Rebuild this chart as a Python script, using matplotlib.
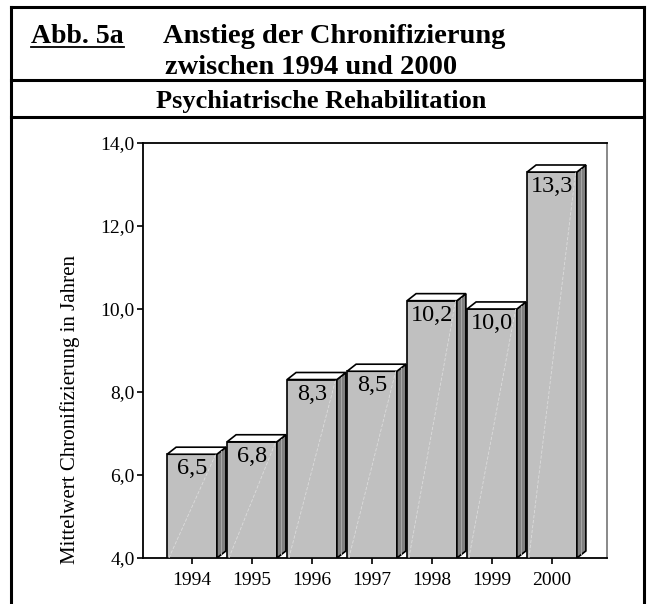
import numpy as np
import matplotlib
matplotlib.use("Agg")
import matplotlib.pyplot as plt
from matplotlib.patches import Polygon
from matplotlib.lines import Line2D

plt.rcParams['font.family'] = ['Liberation Serif', 'DejaVu Serif']

# data
years = ["1994", "1995", "1996", "1997", "1998", "1999", "2000"]
values = [6.5, 6.8, 8.3, 8.5, 10.2, 10.0, 13.3]
value_labels = ["6,5", "6,8", "8,3", "8,5", "10,2", "10,0", "13,3"]
yticks = [4.0, 6.0, 8.0, 10.0, 12.0, 14.0]
ytick_labels = ["4,0", "6,0", "8,0", "10,0", "12,0", "14,0"]

title_tag = "Abb. 5a"
title_line1 = "Anstieg der Chronifizierung"
title_line2 = "zwischen 1994 und 2000"
subtitle = "Psychiatrische Rehabilitation"
ylabel = "Mittelwert Chronifizierung in Jahren"

W, H = 649, 604
fig = plt.figure(figsize=(W / 100, H / 100), dpi=100)

def fx(px):
    return px / W

def fy(py):
    return 1 - py / H

# ── frame around the figure ──
lw_box = 2.2
for seg in [((11, 7), (644, 7)), ((11, 80), (644, 80)), ((11, 117), (644, 117)),
            ((11, 7), (11, 604)), ((644, 7), (644, 604))]:
    (x0, y0), (x1, y1) = seg
    fig.add_artist(Line2D([fx(x0), fx(x1)], [fy(y0), fy(y1)], color='black',
                          lw=lw_box, solid_capstyle='projecting'))

# title rows
fig.text(fx(31), fy(43), title_tag, fontsize=20, fontweight='bold', va='baseline', ha='left')
fig.add_artist(Line2D([fx(31), fx(124)], [fy(47), fy(47)], color='black', lw=1.3))
fig.text(fx(163), fy(43), title_line1, fontsize=20.5, fontweight='bold', va='baseline', ha='left')
fig.text(fx(165), fy(74), title_line2, fontsize=20.5, fontweight='bold', va='baseline', ha='left')
fig.text(fx(321), fy(108), subtitle, fontsize=19, fontweight='bold', va='baseline', ha='center')

# ── chart ──
ax = fig.add_axes([fx(143), fy(558), fx(607) - fx(143), fy(143) - fy(558)])
x = np.arange(len(years))
ax.set_xlim(-0.817, 6.917)
ax.set_ylim(4.0, 14.0)

w = 0.83
dx, dy = 0.15, 0.17
base = 4.0

for xi, v, lab in zip(x, values, value_labels):
    l, r = xi - w / 2, xi + w / 2
    ax.bar(xi, v - base, bottom=base, width=w, color='#c0c0c0',
           edgecolor='black', linewidth=1.2, zorder=3)
    # faint highlight on front face
    ax.plot([l + 0.03, r - 0.02], [base, v], color='#dcdcdc', lw=0.6,
            ls=(0, (4, 2)), zorder=4)
    side = Polygon([(r, base), (r + dx, base + dy), (r + dx, v + dy), (r, v)],
                   closed=True, facecolor='#808080', edgecolor='black',
                   linewidth=1.2, zorder=3)
    ax.add_patch(side)
    ax.plot([r + dx * 0.5, r + dx * 0.5], [base + dy * 0.6, v + dy * 0.4],
            color='#a8a8a8', lw=0.7, zorder=4)
    top = Polygon([(l, v), (l + dx, v + dy), (r + dx, v + dy), (r, v)],
                  closed=True, facecolor='white', edgecolor='black',
                  linewidth=1.2, zorder=3)
    ax.add_patch(top)
    ax.annotate(lab, (xi, v), xytext=(0, -3), textcoords='offset points',
                ha='center', va='top', fontsize=17.5, zorder=5)

ax.set_xticks(x)
ax.set_xticklabels(years, fontsize=14)
ax.set_yticks(yticks)
ax.set_yticklabels(ytick_labels, fontsize=14)
ax.tick_params(axis='both', direction='out', length=4, width=1.2, color='black')
ax.tick_params(axis='x', pad=6)
ax.tick_params(axis='y', pad=2)

for s in ['left', 'bottom', 'top']:
    ax.spines[s].set_linewidth(1.3)
    ax.spines[s].set_color('black')
ax.spines['right'].set_color('#808080')
ax.spines['right'].set_linewidth(1.3)

fig.text(fx(70), fy(409), ylabel, fontsize=15, rotation=90, ha='center', va='center')

fig.savefig("out.png", dpi=100)
